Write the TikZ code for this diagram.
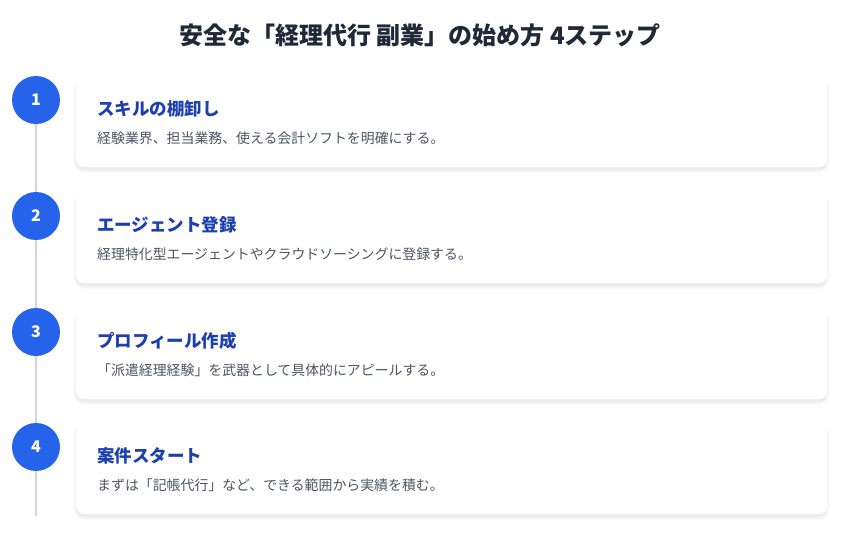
\documentclass[tikz,border=0pt]{standalone}
\usepackage{fontspec}
\setmainfont{Noto Sans CJK JP}
\usetikzlibrary{positioning}
\definecolor{stepblue}{HTML}{2563EB}
\definecolor{titleblue}{HTML}{1E40AF}
\definecolor{desc}{HTML}{4B5563}
\definecolor{heading}{HTML}{1F2937}
\definecolor{linegray}{HTML}{D1D5DB}
\tikzset{
  px/.style={x=1pt,y=-1pt},
  card/.style={draw=none,fill=white,rounded corners=8pt,minimum width=751pt,minimum height=90pt,anchor=north west,inner sep=0pt},
  num/.style={circle,fill=stepblue,minimum size=48pt,inner sep=0pt,text=white,font=\bfseries\fontsize{16}{16}\selectfont},
  stitle/.style={anchor=west,inner sep=0pt,text=titleblue,font=\bfseries\fontsize{17.5}{19}\selectfont},
  sdesc/.style={anchor=west,inner sep=0pt,text=desc,font=\fontsize{13.9}{15}\selectfont},
}
\begin{document}
\begin{tikzpicture}[px]
\useasboundingbox[fill=white] (0,0) rectangle (848,539);
\node[inner sep=0pt,text=heading,font=\bfseries\fontsize{24}{26}\selectfont] (title) at (420,35) {安全な「経理代行 副業」の始め方 4ステップ};
% timeline line
\coordinate (ltop) at (36,100);
\coordinate (lbot) at (36,516);
\draw[linegray,line width=1.2pt] (ltop) -- (lbot);
% steps
\foreach \i/\y/\t/\d in {
  1/77/スキルの棚卸し/経験業界、担当業務、使える会計ソフトを明確にする。,
  2/193/エージェント登録/経理特化型エージェントやクラウドソーシングに登録する。,
  3/309/プロフィール作成/「派遣経理経験」を武器として具体的にアピールする。,
  4/424/案件スタート/まずは「記帳代行」など、できる範囲から実績を積む。}{
  \foreach \k/\o in {0/0.025,1/0.02,2/0.015,3/0.01}{
    \fill[black,opacity=\o,rounded corners={8pt+\k pt}] (76-\k,\y-\k+3) rectangle (827+\k,\y+90+\k+3);
  }
  \node[card] (card\i) at (76,\y) {};
  \node[num] (n\i) at (36,\y+23) {\i};
  \node[stitle] (t\i) at (97,\y+32) {\t};
  \node[sdesc] (d\i) at (97,\y+61) {\d};
}
\end{tikzpicture}
\end{document}
